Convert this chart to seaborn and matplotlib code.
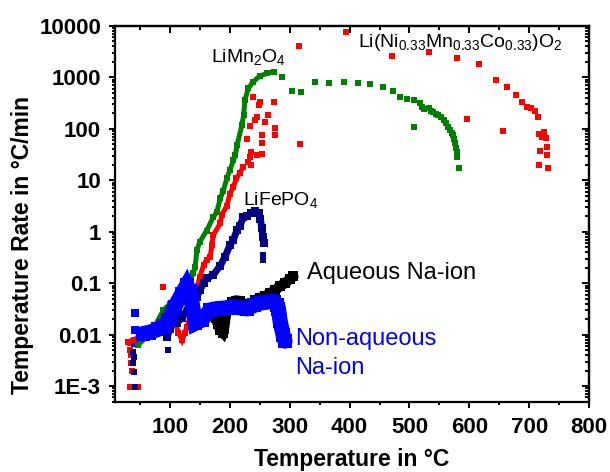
import matplotlib
matplotlib.use("Agg")
import matplotlib.pyplot as plt
import seaborn as sns
from matplotlib.ticker import MultipleLocator, LogLocator, NullFormatter

# LiMn2O4 (green): dense rise + sparse decay
green_x = [47, 60, 75, 89, 100, 115, 130, 139, 142, 145, 150, 161, 172, 178, 184, 189, 195,
           200, 206, 209, 212, 220, 223, 225, 231, 239, 250, 262, 273]
green_y = [0.0063, 0.009, 0.015, 0.03, 0.04, 0.06, 0.1, 0.155, 0.21, 0.45, 0.64, 1.05, 1.9, 2.4,
           4.5, 6.3, 10.9, 15.8, 24.8, 31, 48, 119, 186, 364, 614, 826, 1066, 1200, 1290]
green_sc_x = [287, 303, 318, 342, 366, 391, 414, 434, 455, 472, 484, 496, 507, 507, 517, 521,
              524, 532, 536, 540, 544, 548, 552, 557, 561, 565, 568, 571, 572, 575, 576, 578,
              579, 580, 582]
green_sc_y = [1030, 545, 514, 815, 790, 815, 780, 735, 660, 537, 416, 376, 359, 110, 322, 262,
              240, 251, 225, 215, 195, 186, 168, 149, 128, 110, 95, 82, 76, 63, 52, 43,
              36, 29, 17]

# Li(Ni0.33Mn0.33Co0.33)O2 (red)
red_x = [30, 40, 55, 70, 90, 100, 108, 114, 120, 125, 128, 134, 139, 144, 145, 150, 156, 161,
         167, 170, 172, 184, 186, 195, 200, 206, 211, 217, 222]
red_y = [0.0073, 0.008, 0.01, 0.012, 0.016, 0.019, 0.0178, 0.011, 0.0078, 0.011, 0.014, 0.022,
         0.035, 0.063, 0.085, 0.133, 0.225, 0.28, 0.33, 0.55, 0.85, 1.46, 2.1, 3.2, 5.5, 7.5,
         11, 14, 18]
red_sc_x = [33, 33, 34, 34, 36, 33, 47, 89, 228, 231, 234, 234, 236, 236, 239, 242, 245, 245,
            248, 250, 253, 253, 253, 259, 264, 274, 275, 275, 316, 317, 394, 470, 532, 580,
            596, 617, 644, 656, 663, 678, 688, 696, 703, 710, 714, 717, 721, 725, 728, 729,
            718, 730, 717, 731]
red_sc_y = [0.0068, 0.005, 0.004, 0.0028, 0.002, 0.00097, 0.00097, 0.085, 63, 23, 29, 114,
            19.8, 36, 422, 149, 31, 172, 291, 337, 32, 52, 76, 138, 186, 337, 103, 76, 4080,
            51, 7530, 2610, 3080, 2420, 156, 1820, 891, 92, 642, 455, 333, 270, 251, 225, 168,
            79, 69, 88, 66, 45, 37, 31, 19.8, 17.6]

# LiFePO4 (navy)
navy_x = [95, 100, 105, 111, 120, 134, 145, 150, 156, 161, 172, 184, 192, 200, 206, 212, 217,
          222, 228, 235, 242, 248, 251, 253, 255, 257]
navy_y = [0.009, 0.013, 0.018, 0.017, 0.021, 0.041, 0.054, 0.074, 0.099, 0.124, 0.144, 0.22,
          0.33, 0.55, 0.7, 1.1, 1.3, 1.9, 2.0, 2.3, 2.5, 2.3, 1.8, 1.2, 0.8, 0.6]
navy_sc_x = [38, 39, 38, 40, 41, 97, 256, 256]
navy_sc_y = [0.0045, 0.0037, 0.0028, 0.0019, 0.00097, 0.005, 0.35, 0.28]

# Aqueous Na-ion (black)
black_x = [177, 180, 184, 188, 190, 194, 200, 204, 210, 217, 223, 229, 236, 242, 250, 259, 267,
           276, 284, 292, 300, 306]
black_y = [0.021, 0.016, 0.0123, 0.011, 0.013, 0.0275, 0.038, 0.043, 0.046, 0.045, 0.04, 0.034,
           0.04, 0.047, 0.052, 0.056, 0.064, 0.074, 0.088, 0.10, 0.12, 0.135]

# Non-aqueous Na-ion (blue)
blue_x = [55, 65, 80, 90, 97, 108, 120, 128, 133, 136, 142, 153, 167, 178, 195, 206, 218, 228,
          240, 250, 262, 273, 279, 281, 284, 289, 292]
blue_y = [0.0105, 0.011, 0.0127, 0.015, 0.019, 0.035, 0.063, 0.092, 0.07, 0.047, 0.0166, 0.0192,
          0.030, 0.032, 0.033, 0.035, 0.033, 0.032, 0.037, 0.041, 0.043, 0.044, 0.038, 0.032,
          0.018, 0.0098, 0.0075]
blue_sc_x = [42, 42, 42]
blue_sc_y = [0.026, 0.0123, 0.0068]

x_ticks = [100, 200, 300, 400, 500, 600, 700, 800]
y_ticks = [1e-3, 1e-2, 1e-1, 1, 10, 100, 1000, 10000]
y_tick_labels = ["1E-3", "0.01", "0.1", "1", "10", "100", "1000", "10000"]

GREEN = "#008000"
RED = "#ff0000"
NAVY = "#000080"
BLUE = "#0000ff"

sns.set_style("ticks")
plt.rcParams["font.family"] = ["Liberation Sans", "DejaVu Sans"]
plt.rcParams["mathtext.fontset"] = "custom"
plt.rcParams["mathtext.rm"] = "Liberation Sans"
plt.rcParams["mathtext.it"] = "Liberation Sans:italic"
plt.rcParams["mathtext.bf"] = "Liberation Sans:bold"
for key in ["text.color", "axes.labelcolor", "xtick.color", "ytick.color", "axes.edgecolor"]:
    plt.rcParams[key] = "black"

fig, ax = plt.subplots(figsize=(6.1, 4.72), dpi=100)
fig.subplots_adjust(left=0.1885, right=0.9656, bottom=0.1483, top=0.9449)
ax.set_yscale("log")

def band(x, y, color, lw, ms):
    sns.lineplot(x=x, y=y, ax=ax, sort=False, estimator=None, color=color, linewidth=lw,
                 marker="s", markersize=ms, markeredgewidth=0, solid_joinstyle="miter")

def dots(x, y, color, s):
    sns.scatterplot(x=x, y=y, ax=ax, color=color, marker="s", s=s, linewidth=0)

band(green_x, green_y, GREEN, 3.6, 4.5)
dots(green_sc_x, green_sc_y, GREEN, 14)
band(red_x, red_y, RED, 3.6, 4.5)
dots(red_sc_x, red_sc_y, RED, 14)
band(navy_x, navy_y, NAVY, 5, 5.5)
dots(navy_sc_x, navy_sc_y, NAVY, 14)
band(black_x, black_y, "black", 7.5, 7.5)
band(blue_x, blue_y, BLUE, 11, 10)
dots(blue_sc_x, blue_sc_y, BLUE, 40)

ax.set_xlim(8, 800)
ax.set_ylim(4.9e-4, 1e4)
ax.set_xticks(x_ticks)
ax.xaxis.set_minor_locator(MultipleLocator(50))
ax.set_yticks(y_ticks)
ax.set_yticklabels(y_tick_labels)
ax.yaxis.set_minor_locator(LogLocator(base=10, subs=range(2, 10), numticks=20))
ax.yaxis.set_minor_formatter(NullFormatter())

ax.tick_params(which="both", direction="out", width=1.4, top=False, right=False)
ax.tick_params(which="major", length=4, labelsize=16, pad=6)
ax.tick_params(axis="x", which="major", pad=7)
ax.tick_params(which="minor", length=2.5)
for lab in ax.get_xticklabels() + ax.get_yticklabels():
    lab.set_fontweight("bold")
for sp in ax.spines.values():
    sp.set_linewidth(1.6)
    sp.set_visible(True)

# inward ticks on the top and right edges
sec_x = ax.secondary_xaxis("top")
sec_x.set_xticks(x_ticks)
sec_x.xaxis.set_minor_locator(MultipleLocator(50))
sec_x.tick_params(which="both", direction="in", labeltop=False, width=1.4)
sec_x.tick_params(which="major", length=5)
sec_x.tick_params(which="minor", length=3)
sec_x.spines["top"].set_linewidth(1.6)
sec_y = ax.secondary_yaxis("right")
sec_y.set_yticks(y_ticks)
sec_y.yaxis.set_minor_locator(LogLocator(base=10, subs=range(2, 10), numticks=20))
sec_y.yaxis.set_minor_formatter(NullFormatter())
sec_y.tick_params(which="both", direction="in", labelright=False, width=1.4)
sec_y.tick_params(which="major", length=5)
sec_y.tick_params(which="minor", length=3)
sec_y.spines["right"].set_linewidth(1.6)

ax.set_xlabel("Temperature in °C", fontsize=16.5, fontweight="bold", labelpad=7)
ax.set_ylabel("Temperature Rate in °C/min", fontsize=16.5, fontweight="bold")
ax.yaxis.set_label_coords(-0.17, 0.417)

ax.text(168, 1970, r"LiMn$_2$O$_4$", fontsize=14, ha="left", va="baseline")
ax.text(414, 3955, r"Li(Ni$_{0.33}$Mn$_{0.33}$Co$_{0.33}$)O$_2$", fontsize=14,
        ha="left", va="baseline")
ax.text(222, 3.24, r"LiFePO$_4$", fontsize=14, ha="left", va="baseline")
ax.text(329, 0.119, "Aqueous Na-ion", fontsize=17, ha="left", va="baseline")
ax.text(309, 0.00627, "Non-aqueous", fontsize=17, color=BLUE, ha="left", va="baseline")
ax.text(309, 0.00171, "Na-ion", fontsize=17, color=BLUE, ha="left", va="baseline")

fig.savefig("out.png", dpi=100)
